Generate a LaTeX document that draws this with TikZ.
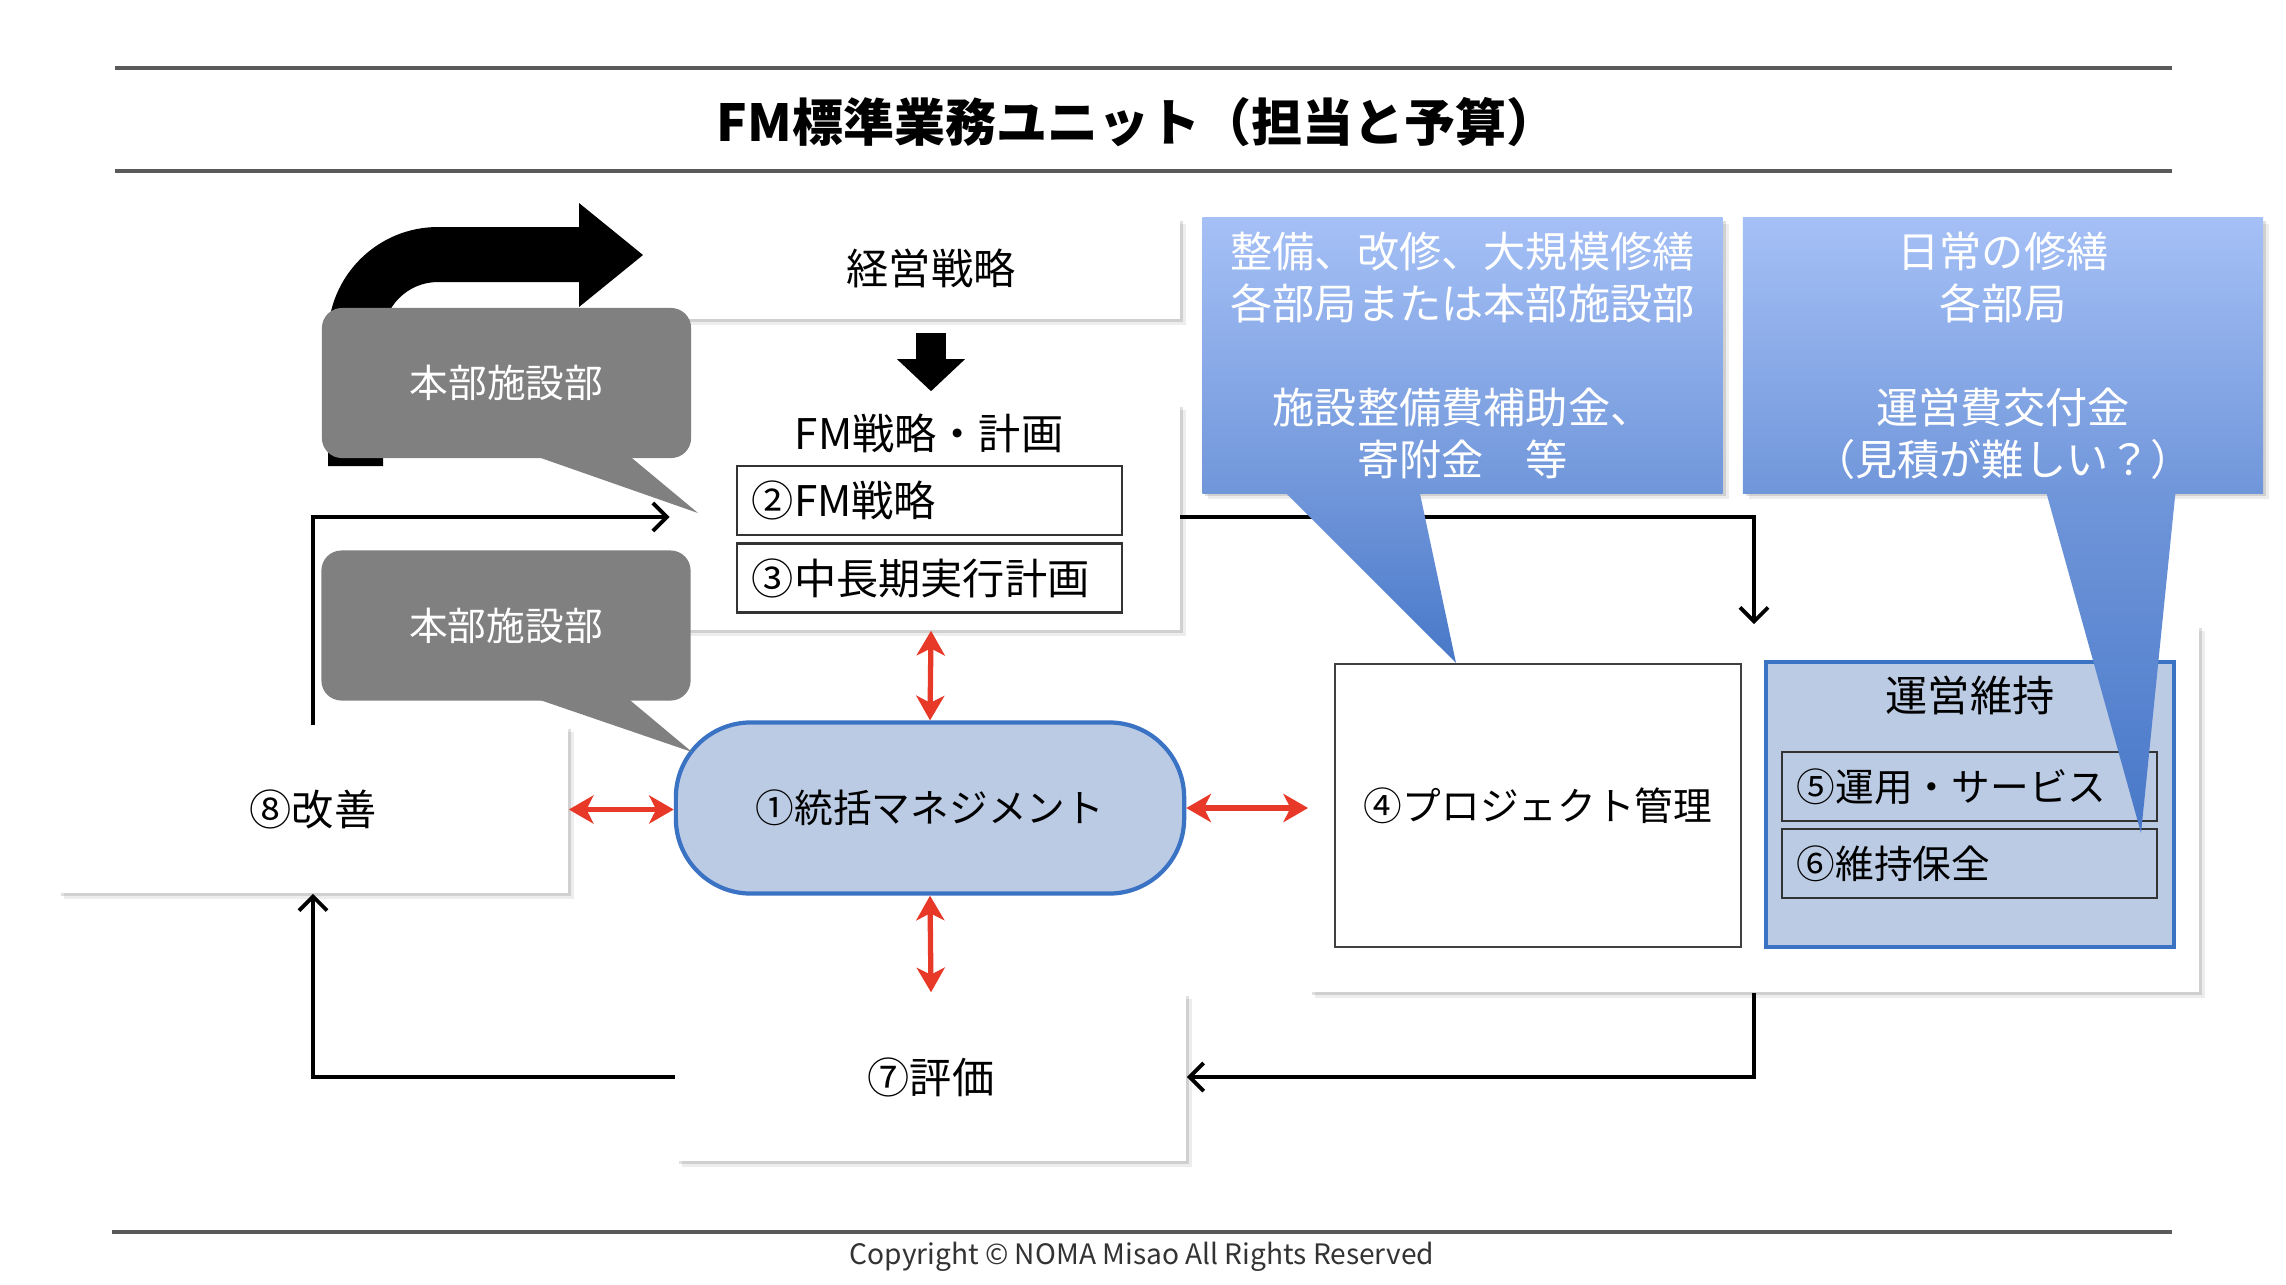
\documentclass[tikz,border=0pt]{standalone}
\usepackage{fontspec}
\setmainfont{Noto Sans CJK JP}
\usetikzlibrary{arrows.meta}
\usetikzlibrary{shadows}
\usetikzlibrary{calc}

\definecolor{mgmtfill}{RGB}{187,203,228}
\definecolor{mgmtedge}{RGB}{58,114,196}
\definecolor{notegray}{RGB}{128,128,128}
\definecolor{linkred}{RGB}{232,56,40}
\definecolor{budgettop}{RGB}{165,192,246}
\definecolor{budgetmid}{RGB}{112,150,218}
\definecolor{budgettip}{RGB}{72,120,200}
\definecolor{rulegray}{RGB}{90,90,90}

\begin{document}
\begin{tikzpicture}[x=0.01cm, y=-0.01cm,
  softshadow/.style={drop shadow={shadow xshift=0.06cm, shadow yshift=-0.06cm, fill=black, opacity=0.07},
    drop shadow={shadow xshift=0.03cm, shadow yshift=-0.03cm, fill=black, opacity=0.12}},
  unitbox/.style={fill=white, draw=none, align=center, font=\fontsize{12}{14.8}\selectfont, softshadow},
  subbox/.style={draw=black!80, line width=0.6pt, text width=3.55cm, align=left, inner xsep=0.15cm,
    minimum height=0.69cm, font=\fontsize{12}{14.8}\selectfont},
  mgmtbox/.style={fill=mgmtfill, draw=mgmtedge, line width=1.2pt, font=\fontsize{11}{13}\selectfont},
  flow/.style={line width=1.1pt, -{Straight Barb[length=4pt,width=8pt]}},
  link/.style={linkred, line width=1.5pt, {Stealth[length=7pt,width=8pt,inset=2pt]}-{Stealth[length=7pt,width=8pt,inset=2pt]}},
  hqnote/.style={fill=notegray, text=white, rounded corners=0.2cm, minimum width=3.69cm,
    minimum height=1.5cm, font=\fontsize{11}{13}\selectfont},
  budgetnote/.style={top color=budgettop, bottom color=budgetmid, text=white, align=center,
    minimum width=5.2cm, minimum height=2.75cm, font=\fontsize{12}{14.8}\selectfont, softshadow}]

\useasboundingbox (0,0) rectangle (2286,1284);

% heading and footer
\draw[rulegray, line width=1pt] (115,68) -- (2172,68);
\draw[rulegray, line width=1pt] (115,171) -- (2172,171);
\node[font=\bfseries\fontsize{14.5}{17}\selectfont] (title) at (1137,122) {FM標準業務ユニット（担当と予算）};
\draw[rulegray, line width=1pt] (112,1232) -- (2172,1232);
\node[font=\fontsize{8}{10}\selectfont, text=black!80] (copy) at (1142,1257) {Copyright © NOMA Misao All Rights Reserved};

% units
\node[unitbox, minimum width=4.97cm, minimum height=1.01cm] (strat) at (931,268.5) {経営戦略};
\node[unitbox, minimum width=4.97cm, minimum height=2.26cm] (fmplan) at (931,517) {};
\node[font=\fontsize{12}{14.8}\selectfont] (fmtitle) at (929,433) {FM戦略・計画};
\node[subbox] (fmstrat) at (929.5,500.5) {②FM戦略};
\node[subbox] (midplan) at (929.5,578) {③中長期実行計画};

\node[mgmtbox, minimum width=5.08cm, minimum height=1.71cm, rounded corners=0.75cm] (mgmt) at (930,808) {①統括マネジメント};
\node[unitbox, minimum width=5.1cm, minimum height=1.67cm] (kaizen) at (313,809.5) {⑧改善};
\node[unitbox, minimum width=5.1cm, minimum height=1.68cm] (hyoka) at (931,1077) {⑦評価};

\node[unitbox, minimum width=8.9cm, minimum height=3.67cm] (opspanel) at (1754,808.5) {};
\node[draw=black!75, line width=0.6pt, minimum width=4.06cm, minimum height=2.83cm, font=\fontsize{11}{13}\selectfont] (proj) at (1538,805.5) {④プロジェクト管理};
\node[mgmtbox, minimum width=4.08cm, minimum height=2.85cm] (upkeep) at (1970,804.5) {};
\node[font=\fontsize{12}{14.8}\selectfont] (upkeeptitle) at (1970,695) {運営維持};
\node[subbox, text width=3.45cm, font=\fontsize{11}{13}\selectfont] (svc) at (1969.5,786.5) {⑤運用・サービス};
\node[subbox, text width=3.45cm, font=\fontsize{11}{13}\selectfont] (maint) at (1969.5,863.5) {⑥維持保全};

% flow
\draw[flow] (kaizen.north) |- ([xshift=-0.12cm]fmplan.west);
\draw[flow] (fmplan.east) -| (opspanel.north);
\draw[flow] (opspanel.south) |- (hyoka.east);
\draw[flow] (hyoka.west) -| (kaizen.south);

\draw[link] (fmplan.south) -- (mgmt.north);
\draw[link] (mgmt.south) -- (hyoka.north);
\draw[link] (kaizen.east) -- (kaizen.east -| mgmt.west);
\draw[link] (mgmt.east) -- (mgmt.east -| opspanel.west);

\draw[line width=0.3cm, -{Triangle[length=0.32cm,width=0.66cm]}] ([yshift=-0.13cm]strat.south) -- ([yshift=0.12cm]fmplan.north);

% bent arrow
\fill (328,466) -- (328,337) .. controls (328,276.2) and (377.2,227) .. (438,227) -- (579,227) -- (579,203)
  -- (643,255) -- (579,307) -- (579,282) -- (438,282) .. controls (407.6,282) and (383,306.6) .. (383,337)
  -- (383,466) -- cycle;

% callouts
\node[hqnote] (hqA) at (506.5,383) {本部施設部};
\coordinate (hqAtip) at (698,513);
\fill[notegray] ([xshift=2.16cm,yshift=0.02cm]hqA.south west) -- (hqAtip) -- ([xshift=3.09cm,yshift=0.02cm]hqA.south west) -- cycle;

\node[hqnote] (hqB) at (506,625.5) {本部施設部};
\coordinate (hqBtip) at (692,752);
\fill[notegray] ([xshift=2.17cm,yshift=0.02cm]hqB.south west) -- (hqBtip) -- ([xshift=3.08cm,yshift=0.02cm]hqB.south west) -- cycle;

\node[budgetnote] (budgetA) at (1462.5,355.5) {整備、改修、大規模修繕\\各部局または本部施設部\\[14.8pt]施設整備費補助金、\\寄附金　等};
\coordinate (budgetAtip) at (1456,663);
\shade[top color=budgetmid, bottom color=budgettip] ([xshift=0.84cm,yshift=0.01cm]budgetA.south west) -- (budgetAtip) -- ([xshift=2.18cm,yshift=0.01cm]budgetA.south west) -- cycle;

\node[budgetnote] (budgetB) at (2003,355.5) {日常の修繕\\各部局\\[14.8pt]運営費交付金\\（見積が難しい？）};
\coordinate (budgetBtip) at (2141,833);
\shade[top color=budgetmid, bottom color=budgettip] ([xshift=3.04cm,yshift=0.01cm]budgetB.south west) -- (budgetBtip) -- ([xshift=4.33cm,yshift=0.01cm]budgetB.south west) -- cycle;

\end{tikzpicture}
\end{document}
